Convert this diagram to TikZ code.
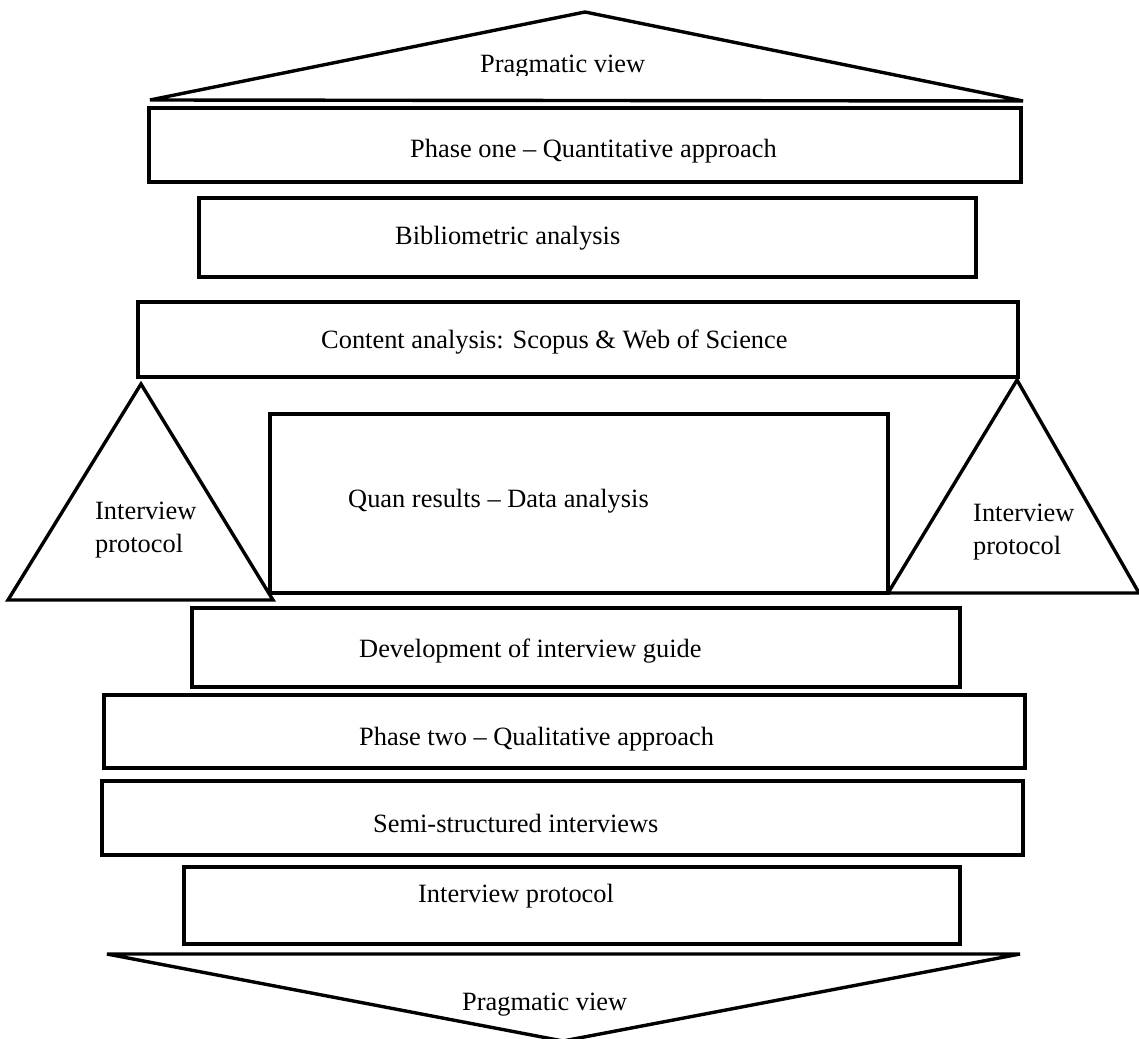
\documentclass[tikz,border=0pt]{standalone}
\usepackage{fontspec}
\setmainfont{Liberation Serif}
\begin{document}
\begin{tikzpicture}[x=1pt,y=-1pt,
  frame/.style={draw=black,line width=3.4pt,miter limit=3},
  lbl/.style={inner sep=0pt,anchor=base west,
    font=\fontsize{26.4}{33}\selectfont}]
\useasboundingbox (0,0) rectangle (1139,1038);
\begin{scope}
\clip (0,0) rectangle (1139,1038);

% roof: pragmatic view
\coordinate (roofL) at (150,100);
\coordinate (roofT) at (585,12);
\coordinate (roofR) at (1023,101);
\draw[frame] (roofL) -- (roofT) -- (roofR) -- cycle;
\begin{scope}
  \clip (300,20) rectangle (800,76);
  \node[lbl] (roofTxt) at (480,73) {Pragmatic view};
\end{scope}

% phase one stack
\draw[frame] (149,108) rectangle (1021,182);
\node[lbl] (phaseOne) at (410,157) {Phase one -- Quantitative approach};
\draw[frame] (199,198) rectangle (976,277);
\node[lbl] (biblio) at (395,244) {Bibliometric analysis};
\draw[frame] (138,302) rectangle (1018,377);
\node[lbl] (content) at (321,348) {Content analysis: Scopus \& Web of Science};

% side triangles and results block
\coordinate (ltA) at (141,384);
\coordinate (ltL) at (8,600);
\coordinate (ltR) at (273,600);
\draw[frame] (ltL) -- (ltA) -- (ltR) -- cycle;
\node[lbl] (ltTxt) at (95,519)
  {\begin{tabular}[t]{@{}l@{}}Interview\\protocol\end{tabular}};

\draw[frame] (270,414) rectangle (888,593);
\node[lbl] (quan) at (348,507) {Quan results -- Data analysis};

\coordinate (rtA) at (1017,380);
\coordinate (rtL) at (888,593);
\coordinate (rtR) at (1139,593);
\draw[frame] (rtL) -- (rtA) -- (rtR) -- cycle;
\node[lbl] (rtTxt) at (973,521)
  {\begin{tabular}[t]{@{}l@{}}Interview\\protocol\end{tabular}};

% phase two stack
\draw[frame] (192,608) rectangle (960,687);
\node[lbl] (dev) at (359,657) {Development of interview guide};
\draw[frame] (104,695) rectangle (1025,768);
\node[lbl] (phaseTwo) at (359,745) {Phase two -- Qualitative approach};
\draw[frame] (102,781) rectangle (1023,855);
\node[lbl] (semi) at (373,832) {Semi-structured interviews};
\draw[frame] (184,867) rectangle (960,944);
\node[lbl] (proto) at (418,902) {Interview protocol};

% base: pragmatic view
\coordinate (baseL) at (107,954);
\coordinate (baseR) at (1020,954);
\coordinate (baseB) at (563,1041);
\draw[frame] (baseL) -- (baseR) -- (baseB) -- cycle;
\node[lbl] (baseTxt) at (462,1010) {Pragmatic view};
\end{scope}
\end{tikzpicture}
\end{document}
